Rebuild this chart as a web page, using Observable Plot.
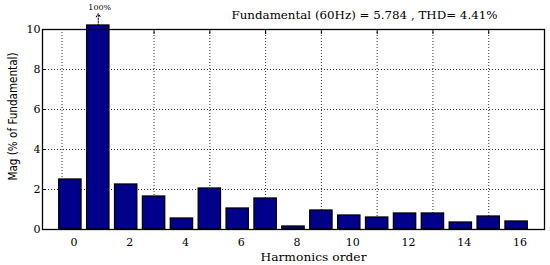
<!DOCTYPE html>
<html>
<head>
<meta charset="utf-8">
<script src="https://cdn.jsdelivr.net/npm/d3@7"></script>
<script src="https://cdn.jsdelivr.net/npm/@observablehq/plot@0.6"></script>
<style>
  html, body { margin: 0; padding: 0; background: #fff; }
  #chart svg { display: block; }
</style>
</head>
<body>
<div id="chart"></div>
<script>
const harmonics = [0,1,2,3,4,5,6,7,8,9,10,11,12,13,14,15,16];
const magnitudes = [2.5,10.2,2.25,1.65,0.55,2.05,1.05,1.55,0.15,0.95,0.7,0.6,0.8,0.8,0.35,0.65,0.4];
const xTicks = [0,2,4,6,8,10,12,14,16];
const xGrid = [-0.3,1,3,5,7,9,11,13,15];
const yTicks = [0,2,4,6,8,10];
const yGrid = [2,4,6,8];
const titleText = "Fundamental (60Hz) = 5.784 , THD= 4.41%";
const xLabel = "Harmonics order";
const yLabel = "Mag (% of Fundamental)";
const peakLabel = "100%";
const peakIndex = 1;
const peakArrow = [10.2, 10.8];
const peakTextY = 11.0;

const data = harmonics.map((h, i) => ({h, v: magnitudes[i]}));
const serif = "DejaVu Serif";
const barW = 0.4;

const chart = Plot.plot({
  width: 550,
  height: 265,
  marginLeft: 42,
  marginRight: 6,
  marginTop: 29,
  marginBottom: 36,
  style: {fontSize: "11px", fontFamily: serif, background: "#fff", overflow: "visible"},
  x: {domain: [-1, 17], axis: null},
  y: {domain: [0, 10], axis: null},
  marks: [
    Plot.ruleX(xGrid, {stroke: "#000", strokeWidth: 1, strokeDasharray: "1,2", strokeOpacity: 0.8}),
    Plot.ruleY(yGrid, {stroke: "#000", strokeWidth: 1, strokeDasharray: "1,2", strokeOpacity: 0.8}),
    Plot.rectY(data, {x1: d => d.h - barW, x2: d => d.h + barW, y1: 0, y2: "v", fill: "#00008b", stroke: "#000", strokeWidth: 1.3, clip: false}),
    Plot.frame({stroke: "#000", strokeWidth: 1.3}),
    Plot.axisY(yTicks, {anchor: "left", tickSize: -4, tickFormat: () => "", stroke: "#000", label: null}),
    Plot.axisY(yTicks.slice(1, -1), {anchor: "right", tickSize: -4, tickFormat: () => "", stroke: "#000", label: null}),
    Plot.axisX(xGrid.slice(2), {anchor: "top", tickSize: -4, tickFormat: () => "", stroke: "#000", label: null}),
    Plot.axisY(yTicks, {anchor: "left", tickSize: 0, tickPadding: 2, fontSize: 11, fontFamily: serif, label: null}),
    Plot.axisX(xTicks, {anchor: "bottom", tickSize: 0, tickPadding: 9, dx: 3.5, fontSize: 11, fontFamily: serif, label: null}),
    Plot.arrow([0], {x1: () => harmonics[peakIndex], x2: () => harmonics[peakIndex], y1: () => peakArrow[0], y2: () => peakArrow[1], stroke: "#000", strokeWidth: 1, strokeDasharray: "1.5,1.5", headLength: 6, clip: false}),
    Plot.text([peakLabel], {x: () => harmonics[peakIndex], y: () => peakTextY, text: d => d, dx: 1.5, fontSize: 8, fontFamily: serif, textAnchor: "middle", lineAnchor: "bottom"}),
    Plot.text([titleText], {frameAnchor: "top-right", text: d => d, dx: -47, dy: -11, lineAnchor: "bottom", fontSize: 11, fontFamily: serif}),
    Plot.text([xLabel], {frameAnchor: "bottom", text: d => d, dx: 20, dy: 31, lineAnchor: "bottom", fontSize: 11, fontFamily: serif}),
    Plot.text([yLabel], {frameAnchor: "left", text: d => d, rotate: -90, textAnchor: "middle", dx: -29, dy: -13, fontSize: 11.5, fontFamily: "DejaVu Sans Condensed"})
  ]
});
document.getElementById("chart").appendChild(chart);
const fits = {[yLabel]: 128, [titleText]: 266, [xLabel]: 106};
chart.querySelectorAll("text").forEach(t => {
  const s = t.textContent;
  if (fits[s]) {
    t.setAttribute("textLength", String(fits[s]));
    t.setAttribute("lengthAdjust", "spacingAndGlyphs");
  }
});
</script>
</body>
</html>
